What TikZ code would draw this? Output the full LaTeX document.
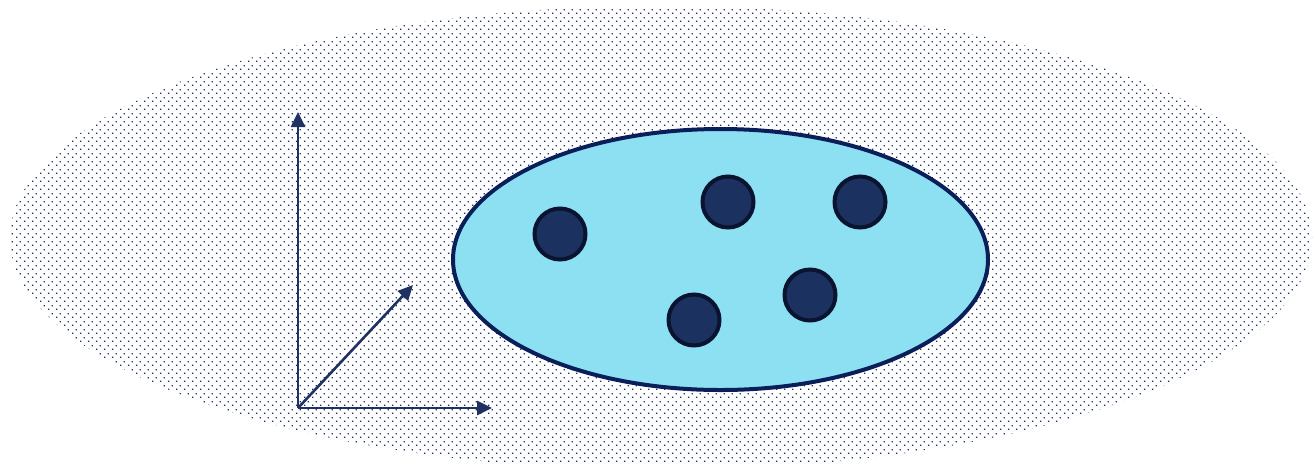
\documentclass[tikz,border=0pt]{standalone}
\usetikzlibrary{arrows.meta, shapes.geometric, patterns}

\definecolor{dotnavy}{HTML}{1A2F5E}
\definecolor{axisnavy}{HTML}{1F3262}
\definecolor{rimnavy}{HTML}{0A1E5A}
\definecolor{skyfill}{HTML}{8DE0F2}
\definecolor{pointfill}{HTML}{1B3160}
\definecolor{pointrim}{HTML}{0A1430}

%% staggered dot raster for the outer space
\pgfdeclarepatternformonly{stagdots}{\pgfpointorigin}{\pgfqpoint{4pt}{4pt}}{\pgfqpoint{4pt}{4pt}}{
  \pgfpathrectangle{\pgfqpoint{0pt}{0pt}}{\pgfqpoint{0.8pt}{0.8pt}}
  \pgfpathrectangle{\pgfqpoint{2pt}{2pt}}{\pgfqpoint{0.8pt}{0.8pt}}
  \pgfusepath{fill}
}

\begin{document}
\begin{tikzpicture}[
  x=0.5pt, y=-0.5pt,
  space/.style={pattern=stagdots, pattern color=dotnavy},
  cluster/.style={
    ellipse, draw=rimnavy, fill=skyfill, line width=2pt,
    minimum width=267.5pt, minimum height=130.5pt, inner sep=0pt
  },
  point/.style={
    circle, draw=pointrim, fill=pointfill, line width=2pt,
    minimum size=25.5pt, inner sep=0pt
  },
  axis/.style={-{Triangle[length=7.5pt, width=7pt]}, draw=axisnavy,
               line width=1.3pt},
]

\useasboundingbox (0,0) rectangle (1315,461);

%% ════════════════════════════════════════════════
%% OUTER SPACE — dotted ellipse, cut at the bottom
%% ════════════════════════════════════════════════
\fill[space] (661,238) ellipse [x radius=651, y radius=232];

%% ════════════════════════════════════════════════
%% CLUSTER with its points
%% ════════════════════════════════════════════════
\node[cluster] (cluster) at (720.5,259.5) {};

\node[point] (p1) at (560,234) {};
\node[point] (p2) at (728,202) {};
\node[point] (p3) at (860,202) {};
\node[point] (p4) at (810,295) {};
\node[point] (p5) at (694,320) {};

%% ════════════════════════════════════════════════
%% AXES
%% ════════════════════════════════════════════════
\coordinate (origin) at (298,408);
\coordinate (yend)   at (298,112);
\coordinate (xend)   at (492,408);
\coordinate (zend)   at (413,285);

\draw[axis] (origin) -- (yend);
\draw[axis] (origin) -- (xend);
\draw[axis] (origin) -- (zend);

\end{tikzpicture}
\end{document}
